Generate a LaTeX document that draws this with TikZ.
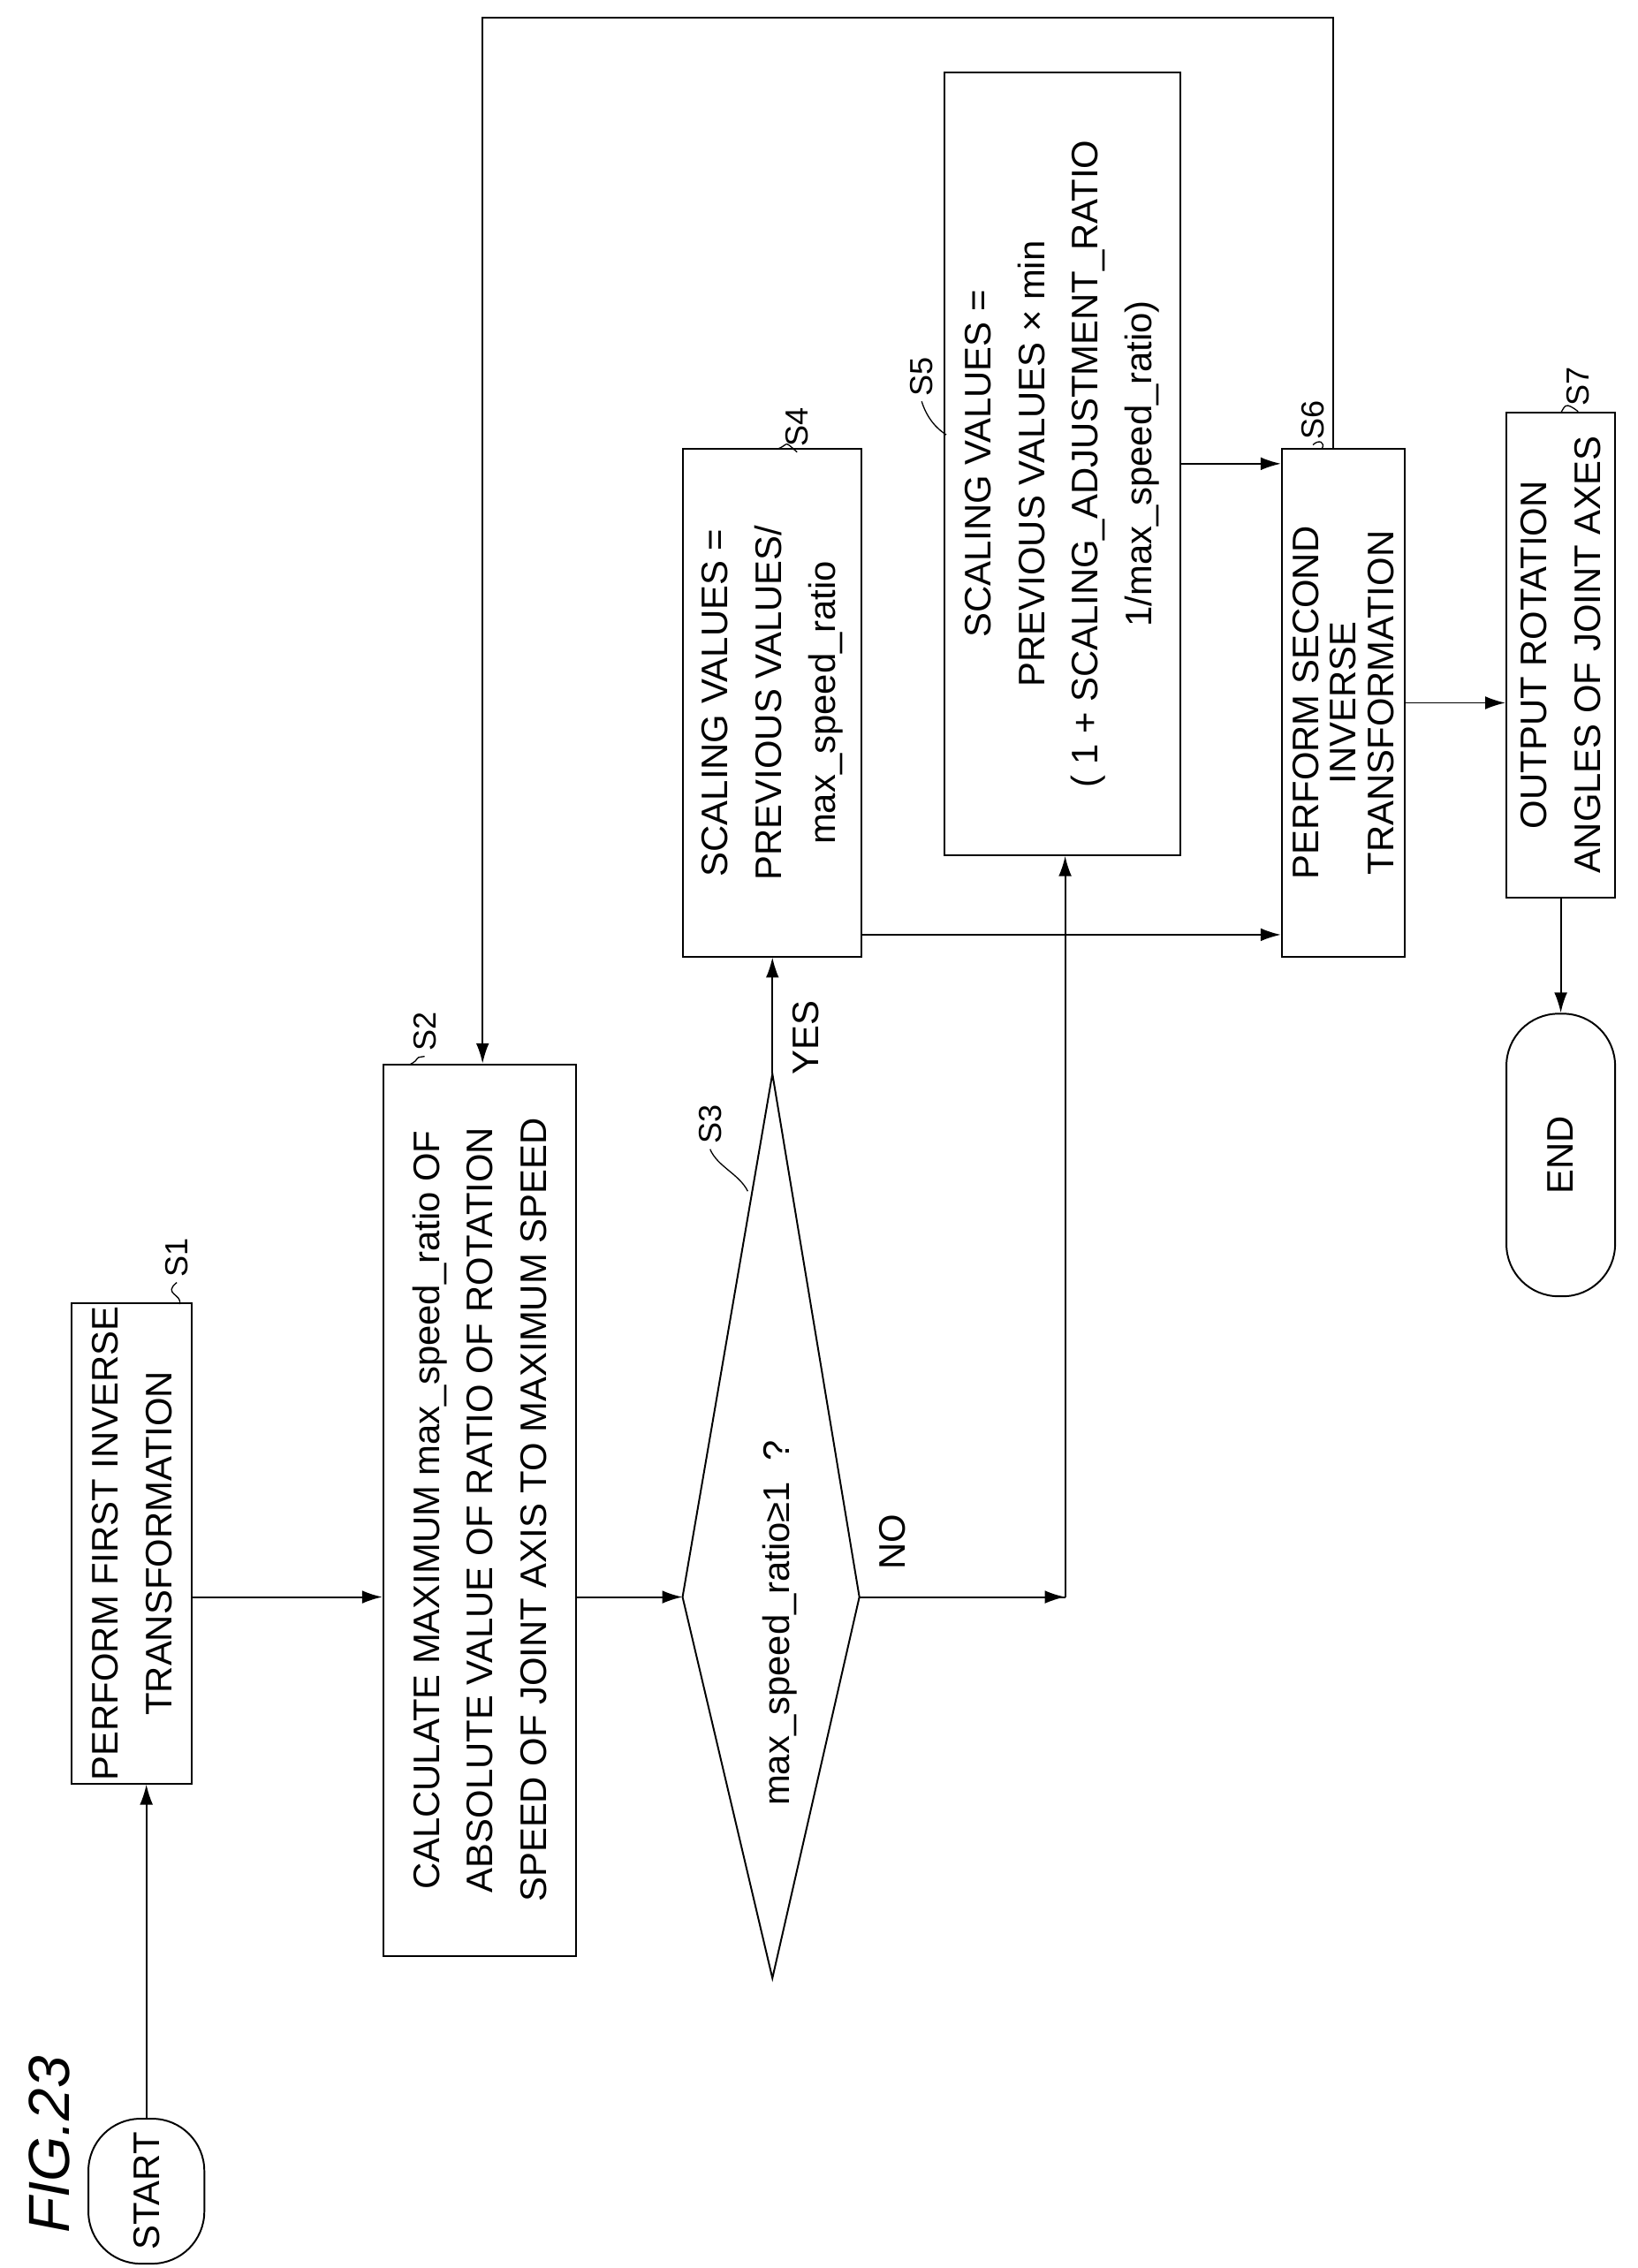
\documentclass[tikz,border=0pt]{standalone}
\usepackage{fontspec}
\setmainfont{Liberation Sans}
\usetikzlibrary{arrows.meta}
\begin{document}
\begin{tikzpicture}[x=1pt,y=1pt,
  txt/.style={font=\fontsize{25.5}{37}\selectfont,align=center},
  box/.style={draw,line width=1.2pt,rotate=90,txt,inner sep=2pt},
  term/.style={draw,line width=1.2pt,rotate=90,rounded corners=36pt,txt},
  lab/.style={rotate=90,font=\fontsize{22}{22}\selectfont},
  ar/.style={line width=1.2pt,-{Latex[length=14pt,width=9pt]}},
  ln/.style={line width=1.2pt},
  lead/.style={line width=0.8pt}]
\useasboundingbox (0,0) rectangle (1130,1565);
\node[rotate=90,font=\fontsize{40}{40}\selectfont\itshape] (fig) at (34,85) {FIG.23};
\node[term,minimum width=100pt,minimum height=80pt] (start) at (101,53) {START};
\node[box,minimum width=330pt,minimum height=83pt] (s1) at (91,500) {PERFORM FIRST INVERSE\\TRANSFORMATION};
\node[box,minimum width=615pt,minimum height=133pt] (s2) at (331,523) {CALCULATE MAXIMUM max\_speed\_ratio OF\\ABSOLUTE VALUE OF RATIO OF ROTATION\\SPEED OF JOINT AXIS TO MAXIMUM SPEED};
\coordinate (dl) at (471,463); \coordinate (dr) at (593,463);
\coordinate (dt) at (533,824); \coordinate (db) at (533,200);
\draw[ln] (dl) -- (dt) -- (dr) -- (db) -- cycle;
\node[rotate=90,txt] (s3) at (538,445) {max\_speed\_ratio≥1\ \ ?};
\node[box,minimum width=350pt,minimum height=123pt] (s4) at (533,1080) {SCALING VALUES =\\PREVIOUS VALUES/\\max\_speed\_ratio};
\node[box,minimum width=540pt,minimum height=163pt] (s5) at (733,1245) {SCALING VALUES =\\PREVIOUS VALUES × min\\( 1 + SCALING\_ADJUSTMENT\_RATIO\\1/max\_speed\_ratio)};
\node[box,minimum width=350pt,minimum height=85pt,font=\fontsize{25.5}{26}\selectfont] (s6) at (927,1080) {PERFORM SECOND\\INVERSE\\TRANSFORMATION};
\node[box,minimum width=335pt,minimum height=75pt] (s7) at (1077,1113) {OUTPUT ROTATION\\ANGLES OF JOINT AXES};
\node[term,minimum width=195pt,minimum height=75pt] (end) at (1077,768) {END};
\node[rotate=90,txt] (yes) at (556,849) {YES};
\node[rotate=90,txt] (no) at (616,501) {NO};
% connectors
\draw[ar] (start.east) -- (start.east |- s1.west);
\draw[ar] (s1.south |- dl) -- (s2.north |- dl);
\draw[ar] (s2.south |- dl) -- (dl);
\draw[ar] (dt) -- (dt |- s4.west);
\draw[ln] (dr) -- (735,463) coordinate (nc);
\draw[ar] (dr) -- (nc);
\draw[ar] (nc) -- (nc |- s5.west);
\draw[ar] (s4.south |- 0,920) -- (s6.north |- 0,920);
\draw[ar] (s5.south |- 0,1245) -- (s6.north |- 0,1245);
\draw[ar] (s6.south) -- (s7.north |- s6.south);
\draw[ar] (s7.west) -- (end.east);
\coordinate (lp) at (920,1553);
\draw[ar] (lp |- s6.east) -- (lp) -- (333,1553) -- (333,0 |- s2.east);
% step labels
\node[lab] (l1) at (122,697) {S1};
\node[lab] (l2) at (293,853) {S2};
\node[lab] (l3) at (490,789) {S3};
\node[lab] (l4) at (550,1270) {S4};
\node[lab] (l5) at (636,1305) {S5};
\node[lab] (l6) at (906,1275) {S6};
\node[lab] (l7) at (1089,1298) {S7};
\draw[lead] (l1.west) .. controls (112,672) and (126,672) .. (124,665);
\draw[lead] (l2.west) .. controls (284,835) and (292,835) .. (282,830);
\draw[lead] (l3.west) .. controls (495,760) and (510,755) .. (516,743);
\draw[lead] (l4.west) .. controls (540,1262) and (545,1258) .. (536,1255);
\draw[lead] (l5.west) .. controls (640,1275) and (648,1268) .. (653,1265);
\draw[lead] (l6.west) .. controls (910,1262) and (915,1260) .. (912,1255);
\draw[lead] (l7.west) .. controls (1080,1288) and (1080,1285) .. (1077,1280);
\end{tikzpicture}
\end{document}
